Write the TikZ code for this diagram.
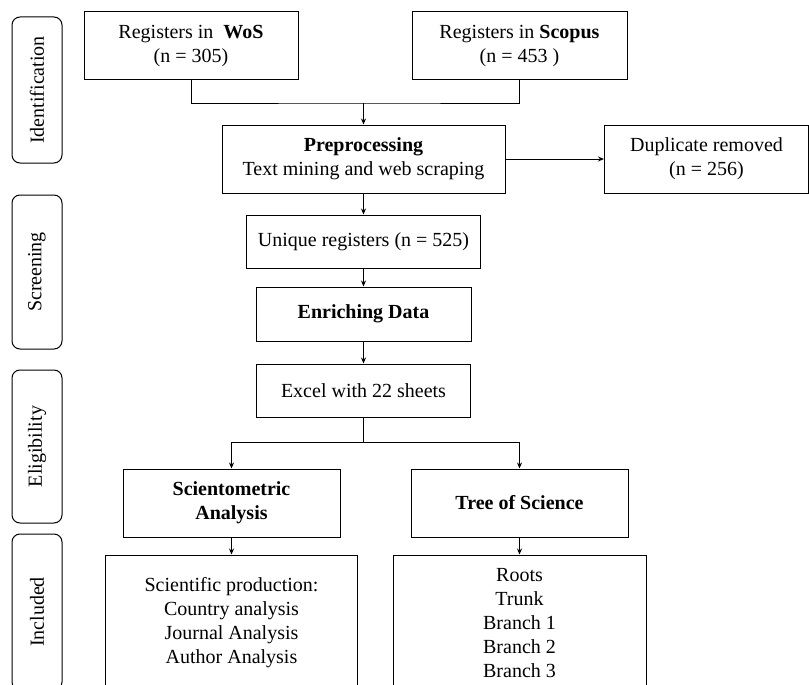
\documentclass[tikz,border=0pt]{standalone}
\usepackage{fontspec}
\setmainfont{Liberation Serif}
\usepackage{tikz}
\usetikzlibrary{arrows.meta,positioning}

\begin{document}
\begin{tikzpicture}[x=1pt,y=-1pt,line width=1pt,
		box/.style={draw,align=center,inner sep=2pt,
			font=\fontsize{20}{24}\selectfont},
		stage/.style={draw,rounded corners=8pt,rotate=90,minimum height=50pt,
			inner sep=0pt,font=\fontsize{20}{24}\selectfont},
		arr/.style={-{Stealth[length=6pt,width=5pt]}}]
		\clip (0,0) rectangle (809,685);
		% stages
		\foreach \name/\txt/\y/\len in {%
			ident/Identification/90/146, screen/Screening/272/154,%
			elig/Eligibility/446.5/153, incl/Included/612/156%
			} {%
			\node[stage,minimum width=\len pt] (\name) at (37,\y) {\txt};
		}
		% boxes
		\node[box,minimum width=214pt,minimum height=68pt] (wos) at (191,46)
		{Registers in\ \ \textbf{WoS}\\(n = 305)};
		\node[box,minimum width=215pt,minimum height=68pt] (scopus) at (519.5,46)
		{Registers in \textbf{Scopus}\\(n = 453 )};
		\node[box,minimum width=283pt,minimum height=68pt] (prep) at (363.5,159)
		{\textbf{Preprocessing}\\Text mining and web scraping};
		\node[box,minimum width=204pt,minimum height=68pt] (dup) at (706.5,159)
		{Duplicate removed\\(n = 256)};
		\node[box,minimum width=234pt,minimum height=53pt] (uniq) at (363.5,241.5)
		{Unique registers (n = 525)};
		\node[box,minimum width=215pt,minimum height=54pt] (enrich) at (363.5,314)
		{\textbf{Enriching Data}};
		\node[box,minimum width=214pt,minimum height=53pt] (excel) at (363.5,390.5)
		{Excel with 22 sheets};
		\node[box,minimum width=217pt,minimum height=68pt] (scimet) at (231.5,503)
		{\textbf{Scientometric}\\\textbf{Analysis}};
		\node[box,minimum width=217pt,minimum height=68pt] (tos) at (519.5,503)
		{\textbf{Tree of Science}};
		\node[box,minimum width=252pt,minimum height=136pt] (sciprod) at (231.5,623)
		{Scientific production:\\Country analysis\\Journal Analysis\\Author Analysis};
		\node[box,minimum width=253pt,minimum height=136pt] (branches) at (519.5,623)
		{Roots\\Trunk\\Branch 1\\Branch 2\\Branch 3};
		% connectors
		\coordinate (join) at (363.5,103);
		\coordinate (split) at (363.5,442);
		\draw (wos.south) |- (join) -| (scopus.south);
		\draw[arr] (join) -- (prep.north);
		\draw[arr] (prep.east) -- (dup.west);
		\draw[arr] (prep.south) -- (uniq.north);
		\draw[arr] (uniq.south) -- (enrich.north);
		\draw[arr] (enrich.south) -- (excel.north);
		\draw (excel.south) -- (split);
		\draw[arr] (split) -| (scimet.north);
		\draw[arr] (split) -| (tos.north);
		\draw[arr] (scimet.south) -- (sciprod.north);
		\draw[arr] (tos.south) -- (branches.north);
	\end{tikzpicture}
\end{document}
